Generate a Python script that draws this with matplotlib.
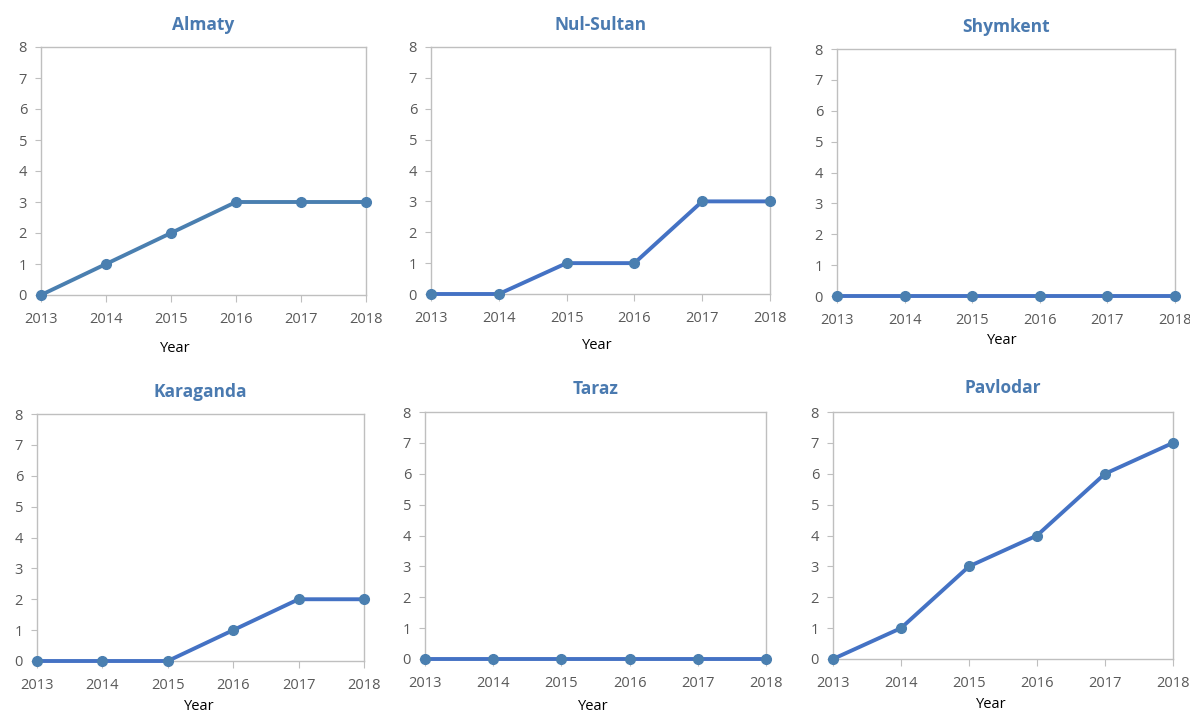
import matplotlib
matplotlib.use("Agg")
import matplotlib.pyplot as plt

plt.rcParams['font.family'] = ['Open Sans', 'DejaVu Sans']

years = [2013, 2014, 2015, 2016, 2017, 2018]
cities = ["Almaty", "Nul-Sultan", "Shymkent", "Karaganda", "Taraz", "Pavlodar"]
almaty = [0, 1, 2, 3, 3, 3]
nul_sultan = [0, 0, 1, 1, 3, 3]
shymkent = [0, 0, 0, 0, 0, 0]
karaganda = [0, 0, 0, 1, 2, 2]
taraz = [0, 0, 0, 0, 0, 0]
pavlodar = [0, 1, 3, 4, 6, 7]
series = [almaty, nul_sultan, shymkent, karaganda, taraz, pavlodar]

# pixel boxes: left, right, top, bottom ; title y ; year label (x, y)
boxes = [
    (41, 366, 47, 295, 25, (175, 348)),
    (431, 770, 47, 294, 25, (597, 345)),
    (837, 1175, 49, 296, 27, (1002, 340)),
    (37, 364, 414, 661, 392, (199, 706)),
    (425, 766, 412, 659, 389, (593, 706)),
    (833, 1173, 412, 659, 388, (991, 705)),
]
line_colors = ["#4a7fb0", "#4472c4", "#4472c4", "#4472c4", "#4472c4", "#4472c4"]
marker_color = "#4a7fb0"
title_color = "#4a7ab0"
W, H = 1190, 714

fig = plt.figure(figsize=(W / 100, H / 100), dpi=100)
for name, vals, box, lc in zip(cities, series, boxes, line_colors):
    l, r, t, b, ty, (yx, yy) = box
    ax = fig.add_axes([l / W, 1 - b / H, (r - l) / W, (b - t) / H])
    ax.plot(years, vals, color=lc, lw=2.8, marker='o', ms=7,
            markerfacecolor=marker_color, markeredgecolor=marker_color,
            clip_on=False, zorder=3)
    ax.set_xlim(2013, 2018)
    ax.set_ylim(0, 8)
    ax.set_xticks(years)
    ax.set_yticks(range(0, 9))
    for s in ax.spines.values():
        s.set_color("#bfbfbf")
        s.set_linewidth(1.0)
    ax.tick_params(axis='x', colors="#bfbfbf", labelcolor="#595959",
                   labelsize=10.5, length=5, pad=7)
    ax.tick_params(axis='y', colors="#bfbfbf", labelcolor="#595959",
                   labelsize=10.5, length=4, pad=6)
    fig.text((l + r) / 2 / W, 1 - ty / H, name, ha='center', va='center',
             fontsize=12.5, fontweight='bold', color=title_color)
    fig.text(yx / W, 1 - yy / H, "Year", ha='center', va='center',
             fontsize=10.5, color="#000000")

fig.savefig("out.png", dpi=100)
